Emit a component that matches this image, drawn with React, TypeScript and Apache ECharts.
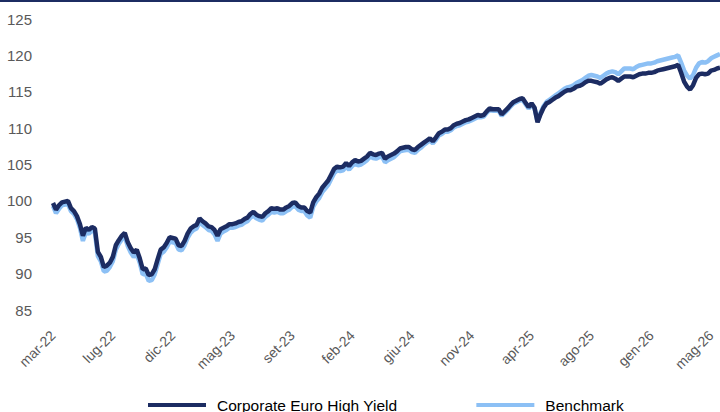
import React, { useEffect, useRef } from "react";
import * as echarts from "echarts";

const seriesNames = ["Corporate Euro High Yield", "Benchmark"];
const startDateUTC = Date.UTC(2022, 2, 10);
const itMonths = ["gen", "feb", "mar", "apr", "mag", "giu", "lug", "ago", "set", "ott", "nov", "dic"];
const yTicks = { min: 85, max: 125, step: 5 };

const fund = [
  99.7, 98.8, 99.4, 99.8, 99.9, 100.0, 99.0, 98.6, 97.9, 96.8,
  95.2, 96.3, 96.0, 96.4, 96.2, 93.0, 92.3, 90.9, 91.1, 91.5,
  92.3, 93.9, 94.6, 95.2, 95.6, 94.3, 93.5, 92.9, 93.3, 92.1,
  90.6, 90.7, 89.8, 89.9, 90.6, 92.0, 93.3, 93.6, 94.2, 95.0,
  94.9, 94.8, 93.9, 93.8, 94.5, 95.5, 96.2, 96.5, 96.7, 97.6,
  97.2, 96.9, 96.5, 96.4, 96.0, 95.2, 96.1, 96.3, 96.5, 96.8,
  96.8, 96.9, 97.1, 97.2, 97.5, 97.7, 98.2, 98.5, 98.1, 97.9,
  97.8, 98.3, 98.6, 99.0, 98.9, 99.0, 98.8, 98.8, 99.1, 99.3,
  99.7, 99.8, 99.3, 99.1, 99.1, 98.6, 98.4, 99.8, 100.5, 101.0,
  101.8, 102.3, 102.8, 103.6, 104.4, 104.7, 104.6, 104.7, 105.2, 104.8,
  105.3, 105.6, 105.4, 105.5, 105.8, 106.1, 106.6, 106.4, 106.3, 106.5,
  106.6, 105.8, 106.1, 106.3, 106.5, 106.8, 107.2, 107.3, 107.4, 107.4,
  107.1, 107.0, 107.4, 107.7, 108.0, 108.3, 108.6, 108.2, 108.7, 109.3,
  109.5, 109.8, 109.8, 110.0, 110.4, 110.6, 110.7, 110.9, 111.1, 111.2,
  111.4, 111.6, 111.8, 111.7, 111.8, 112.3, 112.7, 112.6, 112.6, 112.6,
  111.9, 112.3, 112.7, 113.2, 113.6, 113.8, 114.0, 114.1, 113.5, 112.9,
  113.4, 112.8, 110.8, 111.9, 112.8, 113.4, 113.6, 113.9, 114.2, 114.4,
  114.7, 115.0, 115.2, 115.2, 115.4, 115.7, 115.8, 116.0, 116.3, 116.5,
  116.5, 116.4, 116.3, 116.1, 116.4, 116.7, 116.9, 117.0, 116.8, 116.5,
  116.8, 117.1, 117.1, 117.1, 117.0, 117.2, 117.4, 117.5, 117.5, 117.6,
  117.6, 117.7, 117.9, 118.0, 118.1, 118.2, 118.3, 118.4, 118.5, 118.7,
  117.6, 116.4, 115.7, 115.3, 115.9, 116.9, 117.4, 117.5, 117.4, 117.5,
  117.9, 118.0, 118.2, 118.3,
];

const benchmark = [
  99.3, 98.3, 98.9, 99.4, 99.5, 99.6, 98.6, 98.2, 97.5, 96.3,
  94.5, 95.7, 95.5, 95.9, 95.7, 92.4, 91.7, 90.3, 90.4, 90.9,
  91.7, 93.3, 94.1, 94.7, 95.1, 93.8, 92.9, 92.3, 92.7, 91.5,
  89.9, 90.0, 89.0, 89.1, 89.9, 91.3, 92.7, 93.0, 93.6, 94.4,
  94.3, 94.2, 93.3, 93.2, 93.9, 94.9, 95.6, 96.0, 96.2, 97.1,
  96.7, 96.4, 96.0, 95.9, 95.4, 94.5, 95.5, 95.8, 96.0, 96.3,
  96.3, 96.4, 96.6, 96.7, 97.0, 97.2, 97.7, 98.0, 97.6, 97.4,
  97.3, 97.8, 98.1, 98.5, 98.4, 98.5, 98.3, 98.3, 98.6, 98.8,
  99.2, 99.3, 98.8, 98.6, 98.6, 98.0, 97.7, 99.2, 99.9, 100.4,
  101.2, 101.7, 102.2, 103.0, 103.8, 104.2, 104.1, 104.2, 104.7, 104.3,
  104.8, 105.1, 104.9, 105.0, 105.3, 105.6, 106.1, 105.9, 105.8, 106.0,
  106.1, 105.3, 105.6, 105.8, 106.0, 106.4, 106.8, 106.9, 107.0, 107.0,
  106.7, 106.6, 107.0, 107.3, 107.7, 108.0, 108.3, 107.9, 108.4, 109.0,
  109.2, 109.5, 109.5, 109.7, 110.1, 110.3, 110.4, 110.6, 110.8, 110.9,
  111.1, 111.3, 111.5, 111.5, 111.6, 112.1, 112.5, 112.4, 112.4, 112.4,
  111.7, 112.1, 112.5, 113.0, 113.4, 113.6, 113.8, 113.9, 113.3, 112.7,
  113.2, 112.7, 110.9, 112.1, 113.0, 113.6, 113.9, 114.2, 114.5, 114.8,
  115.1, 115.4, 115.6, 115.7, 115.9, 116.2, 116.4, 116.6, 116.9, 117.2,
  117.3, 117.2, 117.1, 116.9, 117.2, 117.5, 117.7, 117.8, 117.7, 117.4,
  117.8, 118.2, 118.2, 118.2, 118.1, 118.4, 118.6, 118.7, 118.8, 118.9,
  118.9, 119.0, 119.2, 119.3, 119.4, 119.5, 119.6, 119.7, 119.8, 120.0,
  119.0, 117.9, 117.2, 116.8, 117.3, 118.3, 118.9, 119.1, 119.0, 119.2,
  119.6, 119.8, 120.0, 120.2,
];

const categories: string[] = fund.map((_, i) => {
  const d = new Date(startDateUTC + i * 7 * 86400000);
  return itMonths[d.getUTCMonth()] + "-" + String(d.getUTCFullYear()).slice(2);
});

const NAVY = "#1c2c62";
const LIGHT = "#8cc0f5";

export default function App() {
  const ref = useRef<HTMLDivElement>(null);
  useEffect(() => {
    if (!ref.current) return;
    const chart = echarts.init(ref.current, undefined, { renderer: "svg" });
    chart.setOption({
      animation: false,
      backgroundColor: "#ffffff",
      textStyle: { fontFamily: "Liberation Sans, Arial, sans-serif" },
      graphic: [
        { type: "rect", left: 0, top: 0, shape: { width: 720, height: 2 }, style: { fill: NAVY } },
      ],
      grid: { left: 53, top: 19, width: 668, height: 291, containLabel: false },
      legend: {
        left: 148,
        top: 397,
        padding: 0,
        itemGap: 79,
        itemWidth: 58,
        itemHeight: 4,
        icon: "rect",
        data: seriesNames,
        textStyle: { color: "#000000", fontSize: 15.5, padding: [0, 0, 0, 6] },
      },
      xAxis: {
        type: "category",
        data: categories,
        boundaryGap: false,
        axisLine: { show: false },
        axisTick: { show: false },
        splitLine: { show: false },
        axisLabel: {
          interval: 19,
          rotate: 45,
          margin: 23,
          color: "#595959",
          fontSize: 14,
        },
      },
      yAxis: {
        type: "value",
        min: yTicks.min,
        max: yTicks.max,
        interval: yTicks.step,
        axisLine: { show: false },
        axisTick: { show: false },
        splitLine: { show: false },
        axisLabel: { color: "#595959", fontSize: 15, margin: 21 },
      },
      series: [
        {
          name: seriesNames[1],
          type: "line",
          data: benchmark,
          showSymbol: false,
          z: 2,
          lineStyle: { color: LIGHT, width: 4.5 },
          itemStyle: { color: LIGHT },
        },
        {
          name: seriesNames[0],
          type: "line",
          data: fund,
          showSymbol: false,
          z: 3,
          lineStyle: { color: NAVY, width: 4.5 },
          itemStyle: { color: NAVY },
        },
      ],
    });
    return () => chart.dispose();
  }, []);
  return (
    <div
      ref={ref}
      style={{ position: "fixed", left: 0, top: 0, width: 720, height: 412 }}
    />
  );
}
